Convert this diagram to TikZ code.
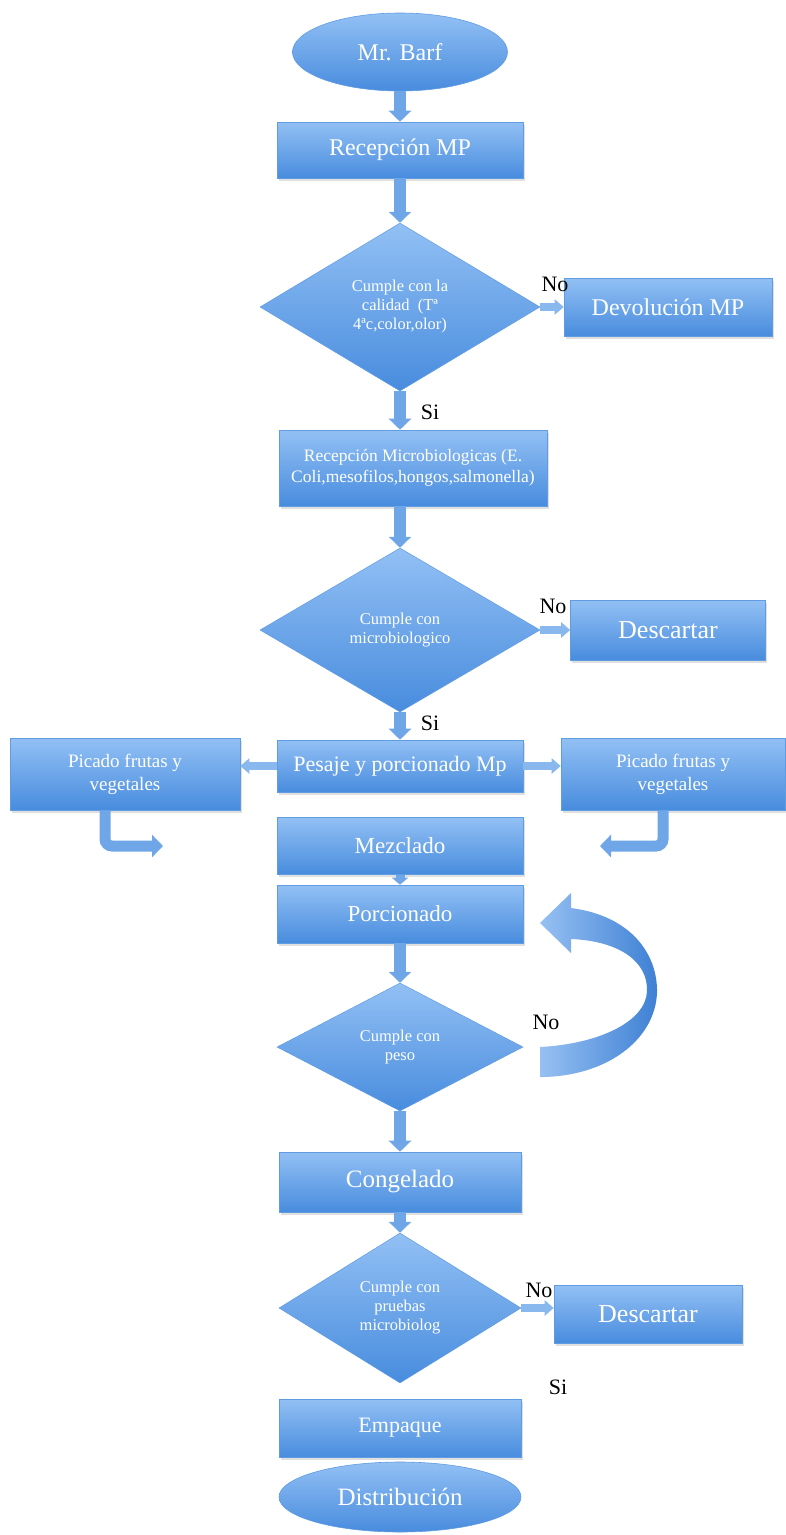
\documentclass[tikz,border=0pt]{standalone}
\usepackage{fontspec}
\setmainfont{Liberation Serif}
\usetikzlibrary{shapes.geometric,shadows,arrows.meta}
\definecolor{btop}{RGB}{146,192,244}
\definecolor{bbot}{RGB}{72,140,222}
\definecolor{bline}{RGB}{96,156,226}
\definecolor{arr}{RGB}{110,166,232}
\definecolor{arrl}{RGB}{136,184,238}
\definecolor{cvl}{RGB}{150,192,242}
\definecolor{cvd}{RGB}{62,128,212}
\begin{document}
\begin{tikzpicture}[x=1pt,y=-1pt]
\tikzset{
 box/.style={rectangle, draw=bline, line width=0.6pt, top color=btop, bottom color=bbot,
   text=white, align=center, inner sep=2pt,
   drop shadow={opacity=0.25, shadow xshift=1.5pt, shadow yshift=-2.5pt}},
 term/.style={ellipse, draw=bline, line width=0.6pt, top color=btop, bottom color=bbot,
   text=white, align=center, inner sep=0pt},
 dia/.style={diamond, aspect=1.6, draw=bline, line width=0.5pt, top color=btop, bottom color=bbot,
   text=white, align=center, inner sep=0pt, font=\fontsize{16.5}{19}\selectfont},
 varrow/.style={draw=arr, line width=12pt, -{Triangle[width=22pt,length=11pt]}},
 harrow/.style={draw=arrl, line width=8pt, -{Triangle[width=15pt,length=9pt]}},
 larrow/.style={draw=arr, line width=11pt, rounded corners=7pt, -{Triangle[width=22pt,length=11pt]}},
 lbl/.style={text=black, inner sep=0pt, font=\fontsize{22}{22}\selectfont},
}
\useasboundingbox (0,0) rectangle (786,1535);
\fill[white] (0,0) rectangle (786,1535);

% nodes
\node[term, minimum width=215pt, minimum height=78pt, font=\fontsize{24}{26}\selectfont] (start) at (400,52) {Mr. Barf};
\node[box, minimum width=246pt, minimum height=56pt, font=\fontsize{24}{26}\selectfont] (recep) at (400,150) {Recepción MP};
\node[dia, minimum width=280pt, minimum height=168pt] (d1) at (400,307) {Cumple con la\\calidad\ \ (Tª\\4ªc,color,olor)};
\node[box, minimum width=208pt, minimum height=58pt, font=\fontsize{24}{26}\selectfont] (devol) at (668,307) {Devolución MP};
\node[box, minimum width=268pt, minimum height=76pt, font=\fontsize{17.5}{21}\selectfont] (micro) at (413,468) {Recepción Microbiologicas (E.\\Coli,mesofilos,hongos,salmonella)};
\node[dia, minimum width=280pt, minimum height=164pt] (d2) at (400,630) {Cumple con\\microbiologico};
\node[box, minimum width=195pt, minimum height=60pt, font=\fontsize{26}{28}\selectfont] (desc1) at (668,630) {Descartar};
\node[box, minimum width=246pt, minimum height=52pt, font=\fontsize{22}{24}\selectfont] (pesaje) at (400,766) {Pesaje y porcionado Mp};
\node[box, minimum width=230pt, minimum height=72pt, font=\fontsize{19}{23}\selectfont] (picL) at (125,774) {Picado frutas y\\vegetales};
\node[box, minimum width=224pt, minimum height=72pt, font=\fontsize{19}{23}\selectfont] (picR) at (673,774) {Picado frutas y\\vegetales};
\node[box, minimum width=246pt, minimum height=57pt, font=\fontsize{23}{25}\selectfont] (mezc) at (400,846) {Mezclado};
\node[box, minimum width=246pt, minimum height=58pt, font=\fontsize{23}{25}\selectfont] (porc) at (400,914) {Porcionado};
\node[dia, minimum width=246pt, minimum height=128pt] (d3) at (400,1047) {Cumple con\\peso};
\node[box, minimum width=242pt, minimum height=60pt, font=\fontsize{25}{27}\selectfont] (cong) at (400,1182) {Congelado};
\node[dia, minimum width=242pt, minimum height=150pt] (d4) at (400,1308) {Cumple con\\pruebas\\microbiolog};
\node[box, minimum width=188pt, minimum height=58pt, font=\fontsize{26}{28}\selectfont] (desc2) at (648,1314) {Descartar};
\node[box, minimum width=242pt, minimum height=58pt, font=\fontsize{22}{24}\selectfont] (emp) at (400,1428) {Empaque};
\node[term, minimum width=242pt, minimum height=70pt, font=\fontsize{25}{27}\selectfont] (dist) at (400,1497) {Distribución};

% labels
\node[lbl] (no1) at (555,284) {No};
\node[lbl] (si1) at (430,412) {Si};
\node[lbl] (no2) at (553,606) {No};
\node[lbl] (si2) at (430,723) {Si};
\node[lbl] (no3) at (546,1022) {No};
\node[lbl] (no4) at (539,1290) {No};
\node[lbl] (si4) at (558,1387) {Si};

% straight connectors
\draw[varrow] (start.south) -- (recep.north);
\draw[varrow] (recep.south) -- (d1.north);
\draw[harrow] (d1.east) -- (devol.west);
\draw[varrow] (d1.south) -- (micro.north -| d1.south);
\draw[varrow] (micro.south -| d1.south) -- (d2.north);
\draw[harrow] (d2.east) -- (desc1.west);
\draw[varrow] (d2.south) -- (pesaje.north -| d2.south);
\draw[harrow] (pesaje.west) -- (pesaje.west -| picL.east);
\draw[harrow] (pesaje.east) -- (pesaje.east -| picR.west);
\draw[varrow, line width=9pt, -{Triangle[width=16pt,length=7pt]}] (mezc.south) -- (porc.north);
\draw[varrow] (porc.south) -- (d3.north);
\draw[varrow] (d3.south) -- (cong.north -| d3.south);
\draw[varrow] (cong.south -| d4.north) -- (d4.north);
\draw[harrow] (d4.east) -- (d4.east -| desc2.west);

% L-shaped connectors
\coordinate (lend) at (163,846);
\coordinate (rend) at (600,846);
\draw[larrow] ([xshift=-20pt]picL.south) |- (lend);
\draw[larrow] ([xshift=-10pt]picR.south) |- (rend);

% curved return arrow (No) from d3 towards Porcionado
\coordinate (tip) at (540,923);
\shade[left color=cvl, right color=cvd]
  (tip) -- (571,893) -- (571,908)
  .. controls (632,916) and (658,955) .. (657,993)
  .. controls (655,1040) and (606,1077) .. (540,1077)
  -- (540,1047)
  .. controls (598,1044) and (646,1022) .. (647,991)
  .. controls (648,962) and (620,941) .. (571,939)
  -- (571,953) -- cycle;
\end{tikzpicture}
\end{document}
